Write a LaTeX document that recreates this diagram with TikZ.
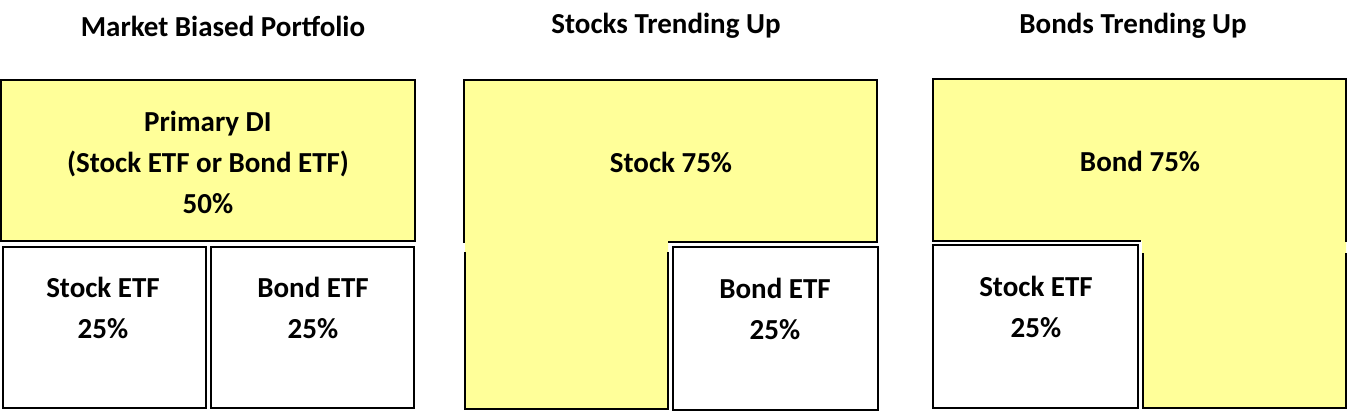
\documentclass[tikz,border=0pt]{standalone}
\usepackage{fontspec}
\setmainfont{Carlito}
\definecolor{boxyellow}{HTML}{FFFF99}
\tikzset{
  lbl/.style={font=\bfseries\fontsize{29}{41}\selectfont, align=center, inner sep=0pt},
  ttl/.style={font=\bfseries\fontsize{29}{34}\selectfont, inner sep=0pt},
  whitebox/.style={draw=black, line width=2pt, fill=white, rectangle, inner sep=0pt},
  yelbox/.style={draw=black, line width=2pt, fill=boxyellow, rectangle, inner sep=0pt},
  edge/.style={draw=black, line width=2pt, line cap=rect},
}
\begin{document}
\begin{tikzpicture}[x=1pt,y=-1pt]
\useasboundingbox[fill=white] (0,0) rectangle (1348,411);
% titles
\node[ttl] (t1) at (223,26) {Market Biased Portfolio};
\node[ttl] (t2) at (666,26) {Stocks Trending Up};
\node[ttl] (t3) at (1133,26) {Bonds Trending Up};

% panel 1
\node[yelbox, minimum width=414pt, minimum height=161pt] (p1top) at (208,160.5) {};
\node[whitebox, minimum width=203pt, minimum height=161pt] (p1s) at (104.5,327.5) {};
\node[whitebox, minimum width=203pt, minimum height=161pt] (p1b) at (312.5,327.5) {};
\node[lbl] (p1toplbl) at (208,162) {Primary DI\\(Stock ETF or Bond ETF)\\50\%};
\node[lbl] (p1slbl) at (103,307.5) {Stock ETF\\25\%};
\node[lbl] (p1blbl) at (313,307.5) {Bond ETF\\25\%};

% panel 2
\fill[boxyellow] (464,80) -- (877,80) -- (877,242) -- (668,242) -- (668,409) -- (465,409) -- (465,242) -- (464,242) -- cycle;
\draw[edge] (464,242) -- (464,80) -- (877,80) -- (877,242) -- (669,242);
\draw[edge] (465,253) -- (465,409) -- (668,409) -- (668,253);
\node[whitebox, minimum width=205pt, minimum height=163pt] (p2b) at (775.5,328.5) {};
\node[lbl] (p2toplbl) at (671,162) {Stock 75\%};
\node[lbl] (p2blbl) at (775,309) {Bond ETF\\25\%};

% panel 3
\fill[boxyellow] (933,79) -- (1346,79) -- (1346,408) -- (1142,408) -- (1142,241) -- (933,241) -- cycle;
\draw[edge] (1346,241) -- (1346,79) -- (933,79) -- (933,241) -- (1140,241);
\draw[edge] (1143,254) -- (1143,408) -- (1346,408) -- (1346,254);
\node[whitebox, minimum width=205pt, minimum height=163pt] (p3s) at (1035.5,326.5) {};
\node[lbl] (p3toplbl) at (1140,161) {Bond 75\%};
\node[lbl] (p3slbl) at (1036,307) {Stock ETF\\25\%};
\end{tikzpicture}
\end{document}
